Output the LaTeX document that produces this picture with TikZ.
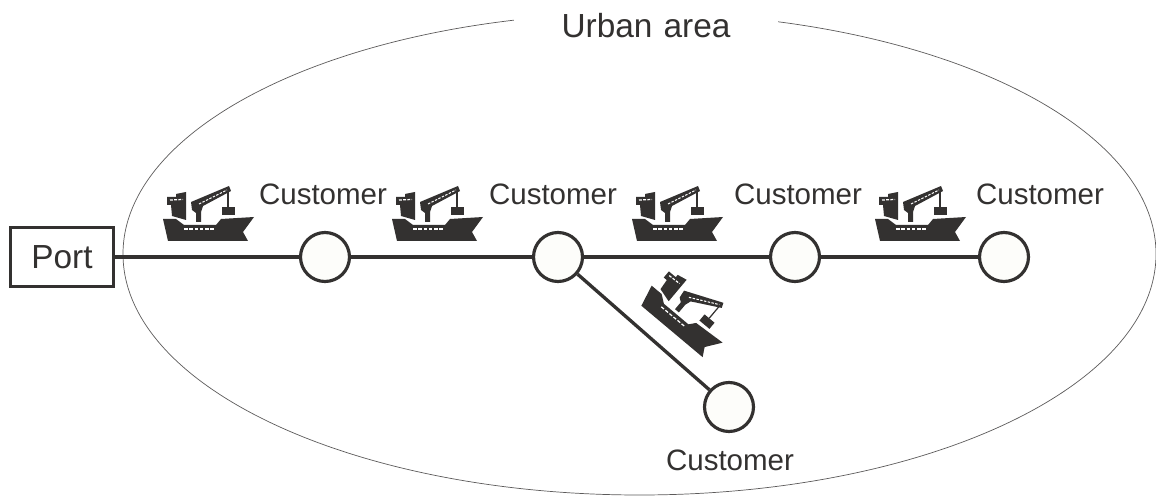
\documentclass[tikz,border=0pt]{standalone}
\usepackage{fontspec}
\setmainfont{Liberation Sans}
\usepackage{tikz}
\usetikzlibrary{positioning}
\definecolor{inkdark}{HTML}{333130}
\definecolor{custfill}{HTML}{FDFDFA}
\tikzset{
  custnode/.style={circle, draw=inkdark, line width=1.8pt, fill=custfill, minimum size=0.98cm, inner sep=0pt},
  portnode/.style={rectangle, draw=inkdark, line width=1.8pt, minimum width=2.06cm, minimum height=1.18cm, font=\fontsize{19}{22}\selectfont, text=inkdark},
  custlabel/.style={font=\fontsize{16.8}{20}\selectfont, text=inkdark, inner sep=0pt},
  arealabel/.style={font=\fontsize{19}{22}\selectfont, text=inkdark, fill=white, text width=5.3cm, align=center, inner xsep=0pt, minimum height=0.9cm},
  link/.style={draw=inkdark, line width=1.9pt},
  ship/.pic={
    % hull, bridge, crane and load
    \fill[inkdark] (-45,6) -- (-32,6) -- (-24,12) -- (8,12) -- (13,6) -- (46,4) -- (35,19) -- (40,28) -- (-40,28) -- cycle;
    \fill[inkdark] (-41,-16) -- (-32,-16) -- (-32,-19) -- (-22,-21) -- (-22,7) -- (-36,3) -- (-37,-8) -- (-41,-8) -- cycle;
    \fill[inkdark] (-17,-11) -- (21,-27) -- (23,-22) -- (-5,-7) -- (-7,-1) -- (-7,9) -- (-12,9) -- (-12,0) -- (-16,-3) -- cycle;
    \fill[inkdark] (14,-6) rectangle (27,2);
    \draw[inkdark, line width=0.7pt] (20,-24) -- (20,-6);
    % windows
    \draw[white, line width=0.7pt, dash pattern=on 2pt off 1pt] (-24,16) -- (6,16);
    \draw[white, line width=0.7pt, dash pattern=on 1.6pt off 0.8pt] (-38,-13) -- (-25,-13.5);
    \draw[white, line width=0.6pt, dash pattern=on 1.4pt off 0.8pt] (-9,-9) -- (19,-23);
  }
}

\begin{document}
\begin{tikzpicture}[x=0.02cm, y=-0.02cm]
\useasboundingbox (0,0) rectangle (1156,496);

% -------------------------------------------------------
% 1. Urban area
% -------------------------------------------------------
\draw[inkdark!80, line width=0.4pt] (639.5,254) ellipse (516.5 and 241);
\node[arealabel] (area) at (646,26) {Urban area};

% -------------------------------------------------------
% 2. Port and customers
% -------------------------------------------------------
\node[portnode] (port) at (62,257) {Port};
\node[custnode] (c1) at (325,257) {};
\node[custnode] (c2) at (558,257) {};
\node[custnode] (c3) at (795,257) {};
\node[custnode] (c4) at (1004,257) {};
\node[custnode] (c5) at (729,407) {};

% -------------------------------------------------------
% 3. Routes
% -------------------------------------------------------
\draw[link] (port) -- (c1);
\draw[link] (c1) -- (c2);
\draw[link] (c2) -- (c3);
\draw[link] (c3) -- (c4);
\draw[link] (c2) -- (c5);

% -------------------------------------------------------
% 4. Labels
% -------------------------------------------------------
\node[custlabel] (l1) at (323,194) {Customer};
\node[custlabel] (l2) at (553,194) {Customer};
\node[custlabel] (l3) at (798,194) {Customer};
\node[custlabel] (l4) at (1040,194) {Customer};
\node[custlabel] (l5) at (730,460) {Customer};

% -------------------------------------------------------
% 5. Ships
% -------------------------------------------------------
\foreach \sx in {208,437,677,920} {
  \pic at (\sx,213) {ship};
}
\pic[rotate=-40] at (690,310) {ship};

\end{tikzpicture}
\end{document}
